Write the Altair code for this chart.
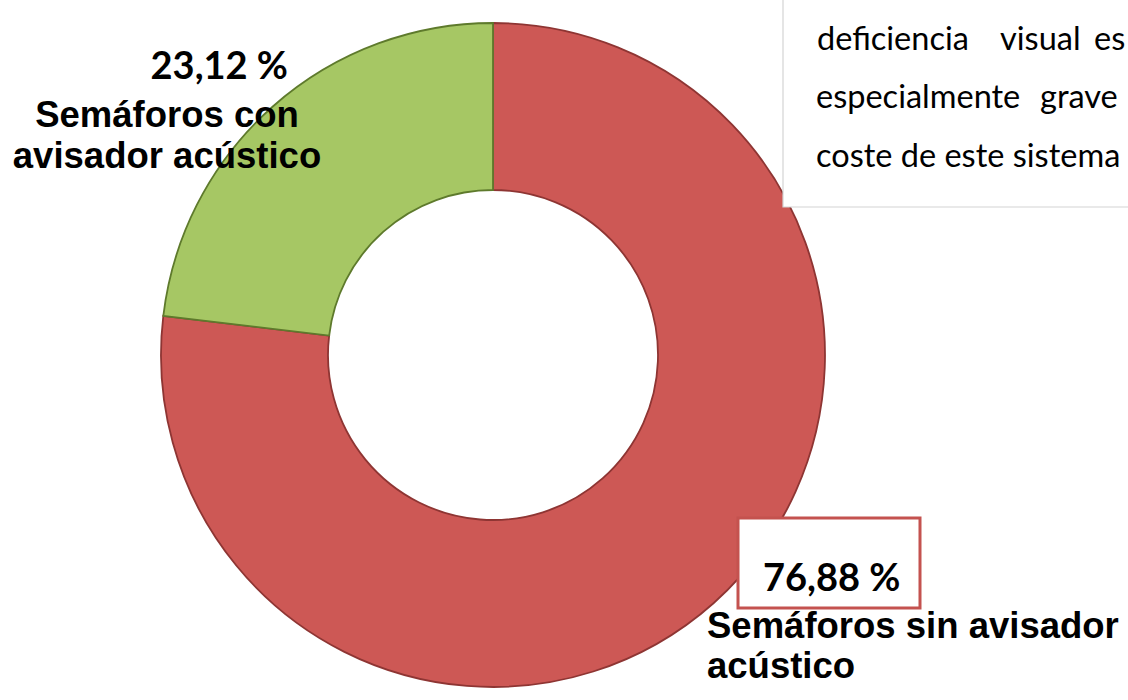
import altair as alt
import pandas as pd

# Data
categories = ["Semáforos sin avisador acústico", "Semáforos con avisador acústico"]
values = [76.88, 23.12]
order = [1, 2]
fills = ["#CD5855", "#A6C764"]
strokes = ["#8E3533", "#5E7A2C"]
pct_labels = ["76,88 %", "23,12 %"]
label_lines_con = ["Semáforos con", "avisador acústico"]
label_lines_sin = ["Semáforos sin avisador", "acústico"]
paragraph_line1 = ["deficiencia", "visual", "es"]
paragraph_line2 = ["especialmente", "grave"]
paragraph_line3 = "coste de este sistema"

df = pd.DataFrame({"categoria": categories, "valor": values, "orden": order})

W, H = 1128, 700
CX, CY = 493, 355

base = alt.Chart(df)

donut = base.mark_arc(outerRadius=332, innerRadius=165, strokeWidth=1.8).encode(
    theta=alt.Theta("valor:Q", stack=True),
    order=alt.Order("orden:Q"),
    color=alt.Color("categoria:N", scale=alt.Scale(domain=categories, range=fills), legend=None),
    stroke=alt.Stroke("categoria:N", scale=alt.Scale(domain=categories, range=strokes), legend=None),
    x=alt.value(CX),
    y=alt.value(CY),
)

one = alt.Chart(pd.DataFrame({"d": [0]}))

def txt(text, x, y, size, font, weight="normal", align="left", color="#000000"):
    return one.mark_text(
        text=text, fontSize=size, font=font, fontWeight=weight,
        align=align, baseline="alphabetic", color=color,
    ).encode(x=alt.value(x), y=alt.value(y))

# Paragraph box (partially visible, top right)
box = one.mark_rect(fill="white", stroke="#D4D4D4", strokeWidth=1.2).encode(
    x=alt.value(783), x2=alt.value(1140), y=alt.value(-10), y2=alt.value(207)
)

# Red box around 76,88 %
redbox = one.mark_rect(fill="white", stroke="#C4524F", strokeWidth=3).encode(
    x=alt.value(738), x2=alt.value(920), y=alt.value(518), y2=alt.value(608)
)

PF = 32.5
layers = [donut, box]
layers += [
    txt(paragraph_line1[0], 817, 50, PF, "Lato"),
    txt(paragraph_line1[1], 1000, 50, PF, "Lato"),
    txt(paragraph_line1[2], 1094, 50, PF, "Lato"),
    txt(paragraph_line2[0], 816, 108, PF, "Lato"),
    txt(paragraph_line2[1], 1040, 108, PF, "Lato"),
    txt(paragraph_line3, 816, 167, PF, "Lato"),
]
layers += [
    redbox,
    txt(pct_labels[0], 763, 591, 38, "Lato", "bold"),
    txt(pct_labels[1], 288, 79, 38, "Lato", "bold", align="right"),
    txt(label_lines_con[0], 167, 127, 36.5, "Liberation Sans", "bold", align="center"),
    txt(label_lines_con[1], 167, 168, 36.5, "Liberation Sans", "bold", align="center"),
    txt(label_lines_sin[0], 707, 638, 36.5, "Liberation Sans", "bold"),
    txt(label_lines_sin[1], 707, 678, 36.5, "Liberation Sans", "bold"),
]

chart = alt.layer(*layers).properties(
    width=W, height=H, padding=0, autosize=alt.AutoSizeParams(type="none"),
    background="white",
).configure_view(stroke=None)

chart.save("out.html", embed_options={"renderer": "svg", "actions": False})
